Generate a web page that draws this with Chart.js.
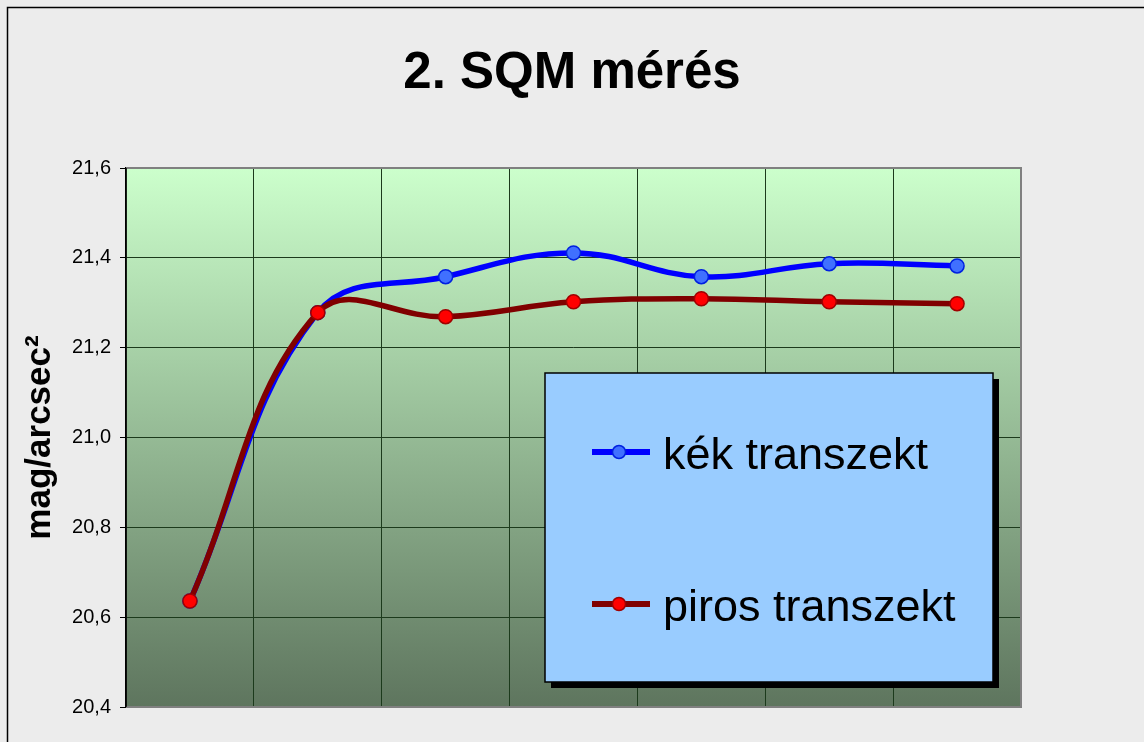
<!DOCTYPE html>
<html>
<head>
<meta charset="utf-8">
<script src="https://cdn.jsdelivr.net/npm/chart.js@4.4.1/dist/chart.umd.min.js"></script>
<style>
  html, body { margin: 0; padding: 0; background: #ececec; }
  canvas { display: block; }
</style>
</head>
<body>
<canvas id="chart" width="1144" height="742"></canvas>
<script>
// chart data
let points     = ["1", "2", "3", "4", "5", "6", "7"];                       // measuring points
let kekValues  = [20.636, 21.278, 21.358, 21.411, 21.358, 21.387, 21.382]; // blue transect
let pirosValues= [20.636, 21.278, 21.269, 21.302, 21.309, 21.302, 21.298]; // red transect
let yMin = 20.4, yMax = 21.6, yStep = 0.2;

let chartTitle  = "2. SQM mérés";
let seriesNames = ["kék transzekt", "piros transzekt"];
let FONT = "'Liberation Sans', Arial, sans-serif";


// paper background, gradient plot area, frame
let backPlugin =
{
    id: "back",
    beforeDraw(chart)
    {
        let ctx = chart.ctx, a = chart.chartArea;
        ctx.save();
        ctx.fillStyle = "#ececec";
        ctx.fillRect(0, 0, chart.width, chart.height);

        let g = ctx.createLinearGradient(0, a.top, 0, a.bottom);
        g.addColorStop(0, "#ccffcc");
        g.addColorStop(1, "#5e755e");
        ctx.fillStyle = g;
        ctx.fillRect(a.left, a.top, a.right - a.left, a.bottom - a.top);

        // outer chart frame (cut by the picture at right/bottom)
        ctx.strokeStyle = "#000";
        ctx.lineWidth = 1.5;
        ctx.strokeRect(7.5, 7.5, 1400, 1000);
        ctx.restore();
    },
    beforeDatasetsDraw(chart)
    {
        let ctx = chart.ctx, a = chart.chartArea;
        ctx.save();
        ctx.strokeStyle = "#808080";
        ctx.lineWidth = 2;
        ctx.beginPath();
        ctx.moveTo(a.left, a.top);
        ctx.lineTo(a.right, a.top);
        ctx.lineTo(a.right, a.bottom);
        ctx.lineTo(a.left, a.bottom);
        ctx.stroke();
        ctx.strokeStyle = "#000";
        ctx.lineWidth = 1.5;
        ctx.beginPath();
        ctx.moveTo(a.left, a.top);
        ctx.lineTo(a.left, a.bottom);
        ctx.stroke();
        ctx.restore();
    }
};


// title centred on the page, legend box inside the plot area
let legendPlugin =
{
    id: "boxLegend",
    afterDraw(chart)
    {
        let ctx = chart.ctx;
        ctx.save();
        ctx.fillStyle = "#000";
        ctx.font = "bold 51px " + FONT;
        ctx.textAlign = "center";
        ctx.textBaseline = "alphabetic";
        ctx.fillText(chartTitle, 572, 88);

        let x = 545, y = 373, w = 448, h = 309;
        ctx.fillStyle = "#000";
        ctx.fillRect(x + 6, y + 6, w, h);
        ctx.fillStyle = "#99ccff";
        ctx.fillRect(x, y, w, h);
        ctx.strokeStyle = "#000";
        ctx.lineWidth = 1.5;
        ctx.strokeRect(x, y, w, h);

        let sets = [chart.data.datasets[1], chart.data.datasets[0]];
        let rowY = [452, 604];
        sets.forEach((ds, i) =>
        {
            let cy = rowY[i];
            ctx.strokeStyle = ds.borderColor;
            ctx.lineWidth = 6;
            ctx.beginPath();
            ctx.moveTo(592, cy);
            ctx.lineTo(650, cy);
            ctx.stroke();

            ctx.beginPath();
            ctx.arc(619, cy, 6.5, 0, Math.PI * 2);
            ctx.fillStyle = ds.pointBackgroundColor;
            ctx.fill();
            ctx.lineWidth = 1.5;
            ctx.strokeStyle = ds.pointBorderColor;
            ctx.stroke();

            ctx.fillStyle = "#000";
            ctx.font = "45px " + FONT;
            ctx.textAlign = "left";
            ctx.fillText(ds.label, 663, cy + 17);
        });
        ctx.restore();
    }
};


let chart = new Chart(document.getElementById("chart").getContext("2d"),
{
    type: "line",
    data:
    {
        labels: points,
        datasets:
        [{
            label: seriesNames[1],
            data: pirosValues,
            order: 0,                       // on top
            borderColor: "#800000",
            borderWidth: 5.5,
            pointRadius: 7,
            pointBorderWidth: 1.5,
            pointBackgroundColor: "#ff0000",
            pointBorderColor: "#a00000",
            tension: 0.4
        },
        {
            label: seriesNames[0],
            data: kekValues,
            order: 1,
            borderColor: "#0000ff",
            borderWidth: 5.5,
            pointRadius: 7,
            pointBorderWidth: 1.5,
            pointBackgroundColor: "#4070ff",
            pointBorderColor: "#0020e0",
            tension: 0.4
        }]
    },
    options:
    {
        responsive: false,
        animation: false,
        layout: { padding: { left: 0, right: 123, top: 168, bottom: 35 } },
        plugins:
        {
            legend: { display: false },
            tooltip: { enabled: false },
            title: { display: false }
        },
        scales:
        {
            x:
            {
                offset: true,
                ticks: { display: false },
                grid: { color: "#1c3a1c", lineWidth: 1, drawTicks: false, offset: true },
                border: { display: false },
                afterFit: s => { s.height = 0; }
            },
            y:
            {
                min: yMin,
                max: yMax,
                ticks:
                {
                    stepSize: yStep,
                    color: "#000",
                    padding: 9,
                    font: { family: FONT, size: 20 },
                    callback: v => v.toFixed(1).replace(".", ",")
                },
                grid: { color: "#1c3a1c", lineWidth: 1, tickLength: 6, tickColor: "#000" },
                border: { display: true, color: "#000", width: 1.5 },
                title:
                {
                    display: true,
                    text: "mag/arcsec²",
                    color: "#000",
                    font: { family: FONT, size: 35, weight: "bold", lineHeight: 1.2 },
                    padding: { top: 19, bottom: 0 }
                },
                afterFit: s => { s.width = 126; }
            }
        }
    },
    plugins: [backPlugin, legendPlugin]
});
</script>
</body>
</html>
